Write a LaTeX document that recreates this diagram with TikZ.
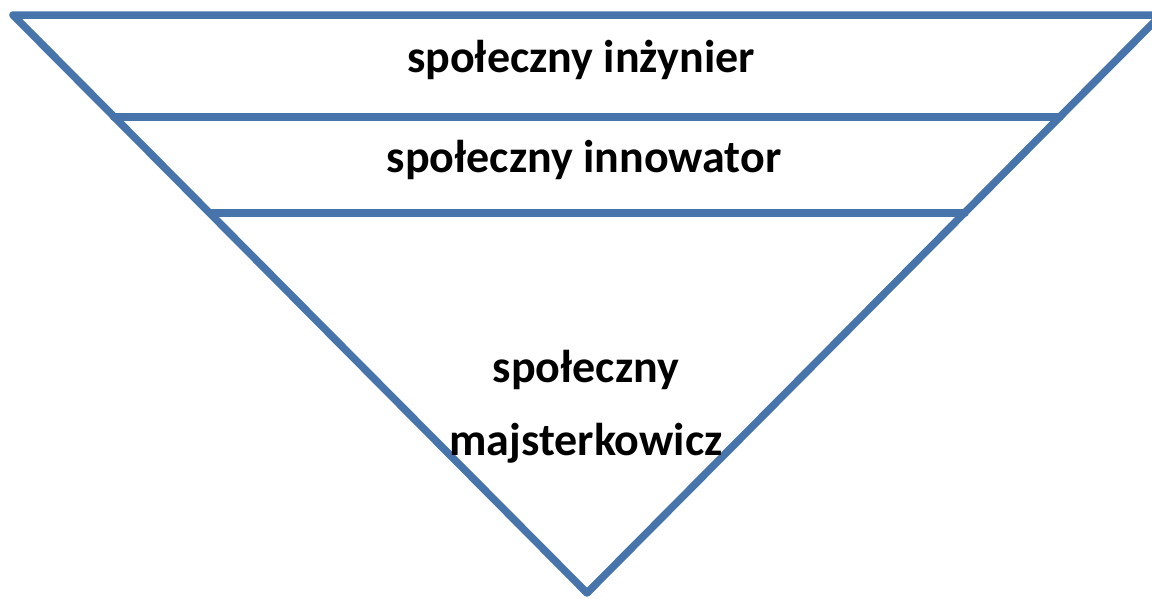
\documentclass[tikz,border=0pt]{standalone}
\usepackage{fontspec}
\setmainfont{Carlito}
\usetikzlibrary{positioning}

\begin{document}
\begin{tikzpicture}[x=1pt, y=-1pt]
    \tikzset{
        edge/.style = {draw={rgb,255:red,70;green,116;blue,171}, line width=7.5pt, line join=round, line cap=round},
        label/.style = {font=\bfseries\fontsize{46}{54}\selectfont, anchor=base, inner sep=0pt},
    }
    \useasboundingbox (0,0) rectangle (1152,598);
    \clip (0,0) rectangle (1152,598);

    \coordinate (topleft) at (13,15);
    \coordinate (topright) at (1161,15);
    \coordinate (apex) at (587,593);
    \coordinate (midleft) at (114,117);
    \coordinate (midright) at (1060,117);
    \coordinate (lowleft) at (210,213);
    \coordinate (lowright) at (965,213);

    \path [edge] (topleft) -- (topright) -- (apex) -- cycle;
    \path [edge] (midleft) -- (midright);
    \path [edge] (lowleft) -- (lowright);

    \node[label](engineer) at (581,72) {społeczny inżynier};
    \node[label](innovator) at (584,172) {społeczny innowator};
    \node[label](tinkerer1) at (586,382) {społeczny};
    \node[label](tinkerer2)[below = 73pt of tinkerer1.base, anchor=base] {majsterkowicz};
\end{tikzpicture}
\end{document}
